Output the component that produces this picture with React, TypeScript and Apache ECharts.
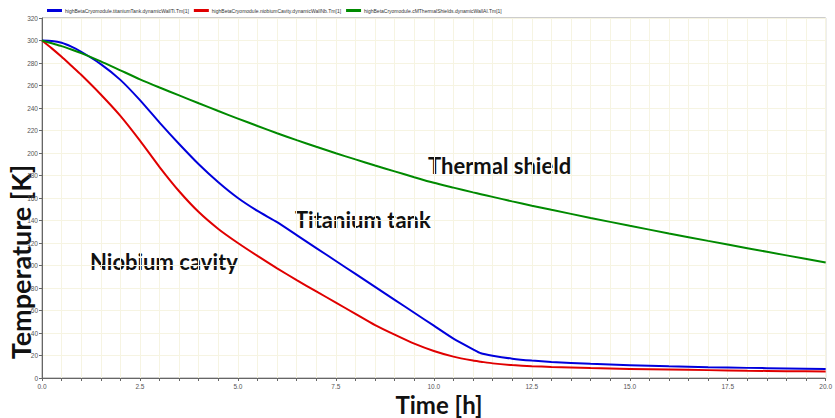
import React, { useEffect, useRef } from "react";
import * as echarts from "echarts";

const time = [0, 0.25, 0.5, 0.75, 1, 1.5, 2, 2.5, 3, 3.5, 4, 4.5, 5, 5.5, 6, 6.5, 7, 7.5, 8, 8.5, 9, 9.5, 10, 10.5, 11, 11.2, 11.5, 12, 12.5, 13, 14, 15, 16, 17, 18, 19, 20];

const titanium = [300, 299.6, 298, 294.5, 290, 279, 265, 247, 227, 208, 190, 174, 160, 148.5, 138.5, 127, 115.5, 104, 92.5, 81, 69.5, 58, 46.5, 35, 25.5, 22, 19.8, 17.2, 15.5, 14.3, 12.6, 11.4, 10.4, 9.6, 9, 8.5, 8];

const niobium = [300, 293, 285.5, 277.5, 269.5, 252, 233, 211, 187.5, 166, 147.5, 132.5, 120, 108.5, 97.5, 87, 77, 67, 57, 47, 38.5, 30.5, 24, 19, 15.5, 14.5, 13, 11.5, 10.5, 9.8, 8.8, 8.1, 7.5, 7, 6.5, 6.1, 5.7];

const thermal = [300, 297.5, 295, 292, 288.8, 281.5, 273.5, 265.5, 258.2, 251.2, 244.2, 237.3, 230.6, 224, 217.6, 211.4, 205.5, 199.8, 194.3, 188.9, 183.7, 178.5, 173.5, 169.2, 165, 163.4, 161, 157, 153.2, 149.5, 142.3, 135.3, 128.5, 121.9, 115.4, 109, 102.7];

const seriesNames = [
  "highBetaCryomodule.titaniumTank.dynamicWallTi.Tm[1]",
  "highBetaCryomodule.niobiumCavity.dynamicWallNb.Tm[1]",
  "highBetaCryomodule.cMThermalShields.dynamicWallAl.Tm[1]",
];
const seriesColors = ["#0000dc", "#e00000", "#008a00"];
const seriesValues = [titanium, niobium, thermal];

const annotations = [
  { text: "Thermal shield", x: 428, y: 167 },
  { text: "Titanium tank", x: 295, y: 221 },
  { text: "Niobium cavity", x: 90, y: 263 },
];

const xTitle = "Time [h]";
const yTitle = "Temperature [K]";

export default function App() {
  const ref = useRef<HTMLDivElement>(null);
  useEffect(() => {
    document.body.style.margin = "0";
    const chart = echarts.init(ref.current!, null, { renderer: "svg" });
    const labelFont = "Lato, 'Open Sans', sans-serif";
    chart.setOption({
      animation: false,
      backgroundColor: "#ffffff",
      legend: {
        left: 42,
        top: 3,
        itemWidth: 15,
        itemHeight: 3,
        itemGap: 5,
        icon: "rect",
        textStyle: { fontSize: 5, color: "#333", fontFamily: "Arial, 'Liberation Sans', sans-serif", padding: [0, 0, 0, -2] },
        data: seriesNames,
      },
      grid: {
        left: 42,
        right: 4,
        top: 18,
        bottom: 40,
        show: true,
        borderColor: "#9a9a9a",
        borderWidth: 1,
      },
      xAxis: {
        type: "value",
        min: 0,
        max: 20,
        interval: 2.5,
        axisLine: { lineStyle: { color: "#666", width: 1 } },
        axisTick: { show: true, length: 3, lineStyle: { color: "#666" } },
        minorTick: { show: true, splitNumber: 5, length: 3, lineStyle: { color: "#666" } },
        splitLine: { show: true, lineStyle: { color: "#f6f4e2", width: 1 } },
        minorSplitLine: { show: true, lineStyle: { color: "#f6f4e2", width: 1 } },
        axisLabel: {
          fontSize: 6.5,
          color: "#555",
          fontFamily: "Arial, 'Liberation Sans', sans-serif",
          margin: 5,
          formatter: (v: number) => v.toFixed(1),
        },
      },
      yAxis: {
        type: "value",
        min: 0,
        max: 320,
        interval: 20,
        axisLine: { show: true, lineStyle: { color: "#666", width: 1 } },
        axisTick: { show: true, length: 3, lineStyle: { color: "#666" } },
        splitLine: { show: true, lineStyle: { color: "#f6f4e2", width: 1 } },
        axisLabel: {
          fontSize: 6.5,
          color: "#555",
          fontFamily: "Arial, 'Liberation Sans', sans-serif",
          margin: 4,
        },
      },
      series: seriesNames.map((name, i) => ({
        name,
        type: "line",
        showSymbol: false,
        smooth: 0.2,
        lineStyle: { color: seriesColors[i], width: 2 },
        itemStyle: { color: seriesColors[i] },
        data: time.map((t, k) => [t, seriesValues[i][k]]),
      })),
      graphic: [
        ...annotations.map((a) => ({
          type: "text",
          left: a.x,
          top: a.y - 13,
          style: {
            text: a.text,
            font: `bold 22px ${labelFont}`,
            fill: "#111",
            stroke: "none",
            lineWidth: 0,
          },
        })),
        {
          type: "text",
          x: 439,
          y: 404,
          style: {
            text: xTitle,
            font: `bold 24px ${labelFont}`,
            fill: "#111",
            stroke: "none",
            align: "center",
            verticalAlign: "middle",
          },
        },
        {
          type: "text",
          x: 20,
          y: 262,
          rotation: Math.PI / 2,
          style: {
            text: yTitle,
            font: `bold 27px ${labelFont}`,
            fill: "#111",
            stroke: "none",
            align: "center",
            verticalAlign: "middle",
          },
        },
      ],
    });
    return () => chart.dispose();
  }, []);
  return <div ref={ref} style={{ width: 835, height: 418 }} />;
}
